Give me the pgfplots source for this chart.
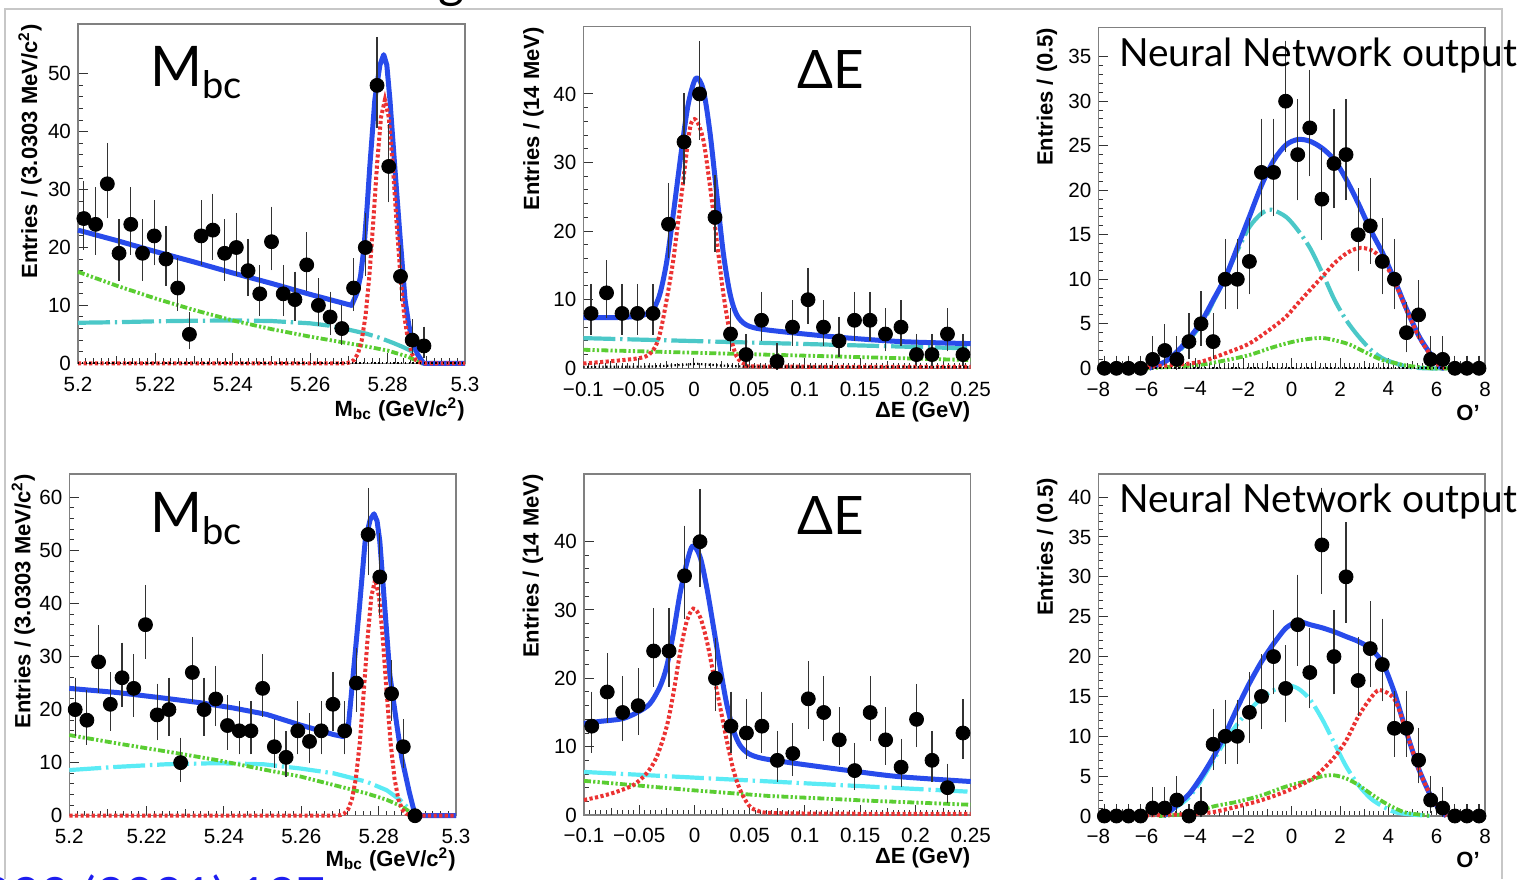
\documentclass[border=0pt]{standalone}
\usepackage{fontspec}
\setmainfont{Liberation Sans}
\newfontfamily\titlefont{Lato}
\usepackage{pgfplots}
\pgfplotsset{compat=1.18}
\usepackage{pgfplotstable}

\definecolor{fitblue}{RGB}{40,75,235}
\definecolor{fitred}{RGB}{235,50,50}
\definecolor{fitcyanA}{RGB}{75,200,200}
\definecolor{fitcyanB}{RGB}{90,235,245}
\definecolor{fitgreen}{RGB}{90,205,50}
\definecolor{slideblue}{RGB}{30,30,240}

\newcommand\ticksize{\fontsize{10.3}{12}\selectfont}
\newcommand\labelfont{\fontsize{11}{13}\selectfont\bfseries}

\pgfplotsset{
  rootaxis/.style={scale only axis, anchor=south west, clip=false, ymin=0,
    axis line style={black!50, line width=0.6pt},
    tick align=inside, tick pos=left,
    major tick length=5pt, minor tick length=2.5pt,
    tick style={black!80, line width=0.5pt},
    ticklabel style={font=\ticksize},
    xticklabel style={yshift=-3.2pt},
    label style={font=\labelfont},
    xlabel style={anchor=east, inner sep=0pt},
    ylabel style={anchor=east, inner sep=0pt},
    extra x tick style={major tick length=3.5pt},
  },
  blueC/.style={color=fitblue, line width=2.5pt, line join=round},
  redC/.style={color=fitred, line width=2pt, dash pattern=on 1.6pt off 1.2pt},
  cyanC/.style={line width=2.1pt, dash pattern=on 16pt off 2.4pt on 1.2pt off 2.4pt},
  greenC/.style={color=fitgreen, line width=1.9pt, dash pattern=on 3.5pt off 1.1pt on 1.1pt off 1.1pt on 1.1pt off 1.1pt},
  blackC/.style={black, line width=1.1pt, dash pattern=on 0.7pt off 1.2pt},
  dataP/.style={only marks, mark=*, mark size=3.5pt, black,
    error bars/.cd, y dir=both, y explicit,
    error bar style={line width=0.6pt, black!80},
    error mark options={line width=0.6pt, mark size=1.2pt, black!80}},
  /pgfplots/table/errT/.style={x=x, y=y,
    y error plus expr={sqrt(\thisrow{y}+0.75)+1-0.72*(\thisrow{y}<0.5)},
    y error minus expr={sqrt(max(\thisrow{y}-0.25,0))}},
}

\pgfplotstableread{
x y
5.20152 25
5.20455 24
5.20758 31
5.21061 19
5.21364 24
5.21667 19
5.21970 22
5.22273 18
5.22576 13
5.22879 5
5.23182 22
5.23485 23
5.23788 19
5.24091 20
5.24394 16
5.24697 12
5.25000 21
5.25303 12
5.25606 11
5.25909 17
5.26212 10
5.26515 8
5.26818 6
5.27121 13
5.27424 20
5.27727 48
5.28030 34
5.28333 15
5.28636 4
5.28939 3
}\dataA

\pgfplotstableread{
x y
-0.093 8
-0.079 11
-0.065 8
-0.051 8
-0.037 8
-0.023 21
-0.009 33
0.005 40
0.019 22
0.033 5
0.047 2
0.061 7
0.075 1
0.089 6
0.103 10
0.117 6
0.131 4
0.145 7
0.159 7
0.173 5
0.187 6
0.201 2
0.215 2
0.229 5
0.243 2
}\dataB

\pgfplotstableread{
x y
-7.75 0
-7.25 0
-6.75 0
-6.25 0
-5.75 1
-5.25 2
-4.75 1
-4.25 3
-3.75 5
-3.25 3
-2.75 10
-2.25 10
-1.75 12
-1.25 22
-0.75 22
-0.25 30
0.25 24
0.75 27
1.25 19
1.75 23
2.25 24
2.75 15
3.25 16
3.75 12
4.25 10
4.75 4
5.25 6
5.75 1
6.25 1
6.75 0
7.25 0
7.75 0
}\dataC

\pgfplotstableread{
x y
5.20152 20
5.20455 18
5.20758 29
5.21061 21
5.21364 26
5.21667 24
5.21970 36
5.22273 19
5.22576 20
5.22879 10
5.23182 27
5.23485 20
5.23788 22
5.24091 17
5.24394 16
5.24697 16
5.25000 24
5.25303 13
5.25606 11
5.25909 16
5.26212 14
5.26515 16
5.26818 21
5.27121 16
5.27424 25
5.27727 53
5.28030 45
5.28333 23
5.28636 13
}\dataD

\pgfplotstableread{
x y
-0.093 13
-0.079 18
-0.065 15
-0.051 16
-0.037 24
-0.023 24
-0.009 35
0.005 40
0.019 20
0.033 13
0.047 12
0.061 13
0.075 8
0.089 9
0.103 17
0.117 15
0.131 11
0.145 6.5
0.159 15
0.173 11
0.187 7
0.201 14
0.215 8
0.229 4
0.243 12
}\dataE

\pgfplotstableread{
x y
-7.75 0
-7.25 0
-6.75 0
-6.25 0
-5.75 1
-5.25 1
-4.75 2
-4.25 0
-3.75 1
-3.25 9
-2.75 10
-2.25 10
-1.75 13
-1.25 15
-0.75 20
-0.25 16
0.25 24
0.75 18
1.25 34
1.75 20
2.25 30
2.75 17
3.25 21
3.75 19
4.25 11
4.75 11
5.25 7
5.75 2
6.25 1
6.75 0
7.25 0
7.75 0
}\dataF

\begin{document}
\begin{tikzpicture}
\useasboundingbox (0,0) rectangle (759pt,439.5pt);

% ---------------- Panel 1: Mbc (top) ----------------
\begin{axis}[rootaxis, at={(39pt,257.85pt)}, width=193.5pt, height=169.65pt,
  xmin=5.2, xmax=5.3, ymax=58.6,
  xtick={5.2,5.22,5.24,5.26,5.28,5.3}, xticklabels={5.2,5.22,5.24,5.26,5.28,5.3},
  minor x tick num=9,
  extra x ticks={5.21,5.23,5.25,5.27,5.29}, extra x tick labels={},
  ytick={0,10,20,30,40,50}, yticklabels={0,10,20,30,40,50}, minor y tick num=4,
  xlabel={M\textsubscript{bc} (GeV/c\textsuperscript{2})},
  ylabel={Entries / (3.0303 MeV/c\textsuperscript{2})},
  xlabel style={at={(axis description cs:1,-0.1356)}},
  ylabel style={at={(axis description cs:-0.124,1)}},
]
\addplot[color=fitcyanA, cyanC] coordinates {(5.2,7.0) (5.21,7.1) (5.22,7.25) (5.23,7.35) (5.24,7.4) (5.25,7.3) (5.26,6.9) (5.265,6.5) (5.27,5.8) (5.2746,5.1) (5.278,4.4) (5.2815,3.5) (5.284,2.8) (5.2865,2.0) (5.2885,1.0) (5.289,0) (5.3,0)};
\addplot[greenC] coordinates {(5.2,15.8) (5.21,13.4) (5.22,11.2) (5.23,9.2) (5.24,7.4) (5.25,5.9) (5.26,4.6) (5.2746,2.9) (5.28,2.2) (5.285,1.2) (5.289,0) (5.3,0)};
\addplot[blueC] coordinates {(5.2,23.0) (5.21,21.2) (5.22,19.3) (5.23,17.5) (5.24,15.6) (5.25,13.8) (5.26,11.9) (5.2707,10.0) (5.2720,12.0) (5.2730,15.0) (5.2739,20.0) (5.2747,27.0) (5.2754,34.0) (5.2767,45.5) (5.2780,51.5) (5.2790,53.3) (5.2798,51.5) (5.2806,45.5) (5.2819,33.5) (5.2832,22.0) (5.2845,11.0) (5.2855,6.5) (5.2865,3.8) (5.2877,1.6) (5.2893,0) (5.3,0)};
\addplot[redC] coordinates {(5.2,0) (5.2693,0) (5.2703,0.18) (5.2713,0.56) (5.2723,1.6) (5.2733,3.9) (5.2743,8.2) (5.2753,15.2) (5.2763,24.5) (5.2773,34.6) (5.2783,42.5) (5.2793,45.5) (5.2803,42.5) (5.2813,34.6) (5.2823,24.5) (5.2833,15.2) (5.2843,8.2) (5.2853,3.9) (5.2863,1.6) (5.2873,0.56) (5.2883,0.18) (5.2893,0) (5.3,0)};
\addplot[blackC] coordinates {(5.2,0) (5.3,0)};
\addplot[dataP] table[errT] {\dataA};
\end{axis}

% ---------------- Panel 2: dE (top) ----------------
\begin{axis}[rootaxis, at={(291.65pt,255.35pt)}, width=193.7pt, height=170.8pt,
  xmin=-0.1, xmax=0.25, ymax=49.8,
  xtick={-0.1,-0.05,0,0.05,0.1,0.15,0.2,0.25}, xticklabels={−0.1,−0.05,0,0.05,0.1,0.15,0.2,0.25},
  minor x tick num=9,
  extra x ticks={-0.075,-0.025,0.025,0.075,0.125,0.175,0.225}, extra x tick labels={},
  ytick={0,10,20,30,40}, yticklabels={0,10,20,30,40}, minor y tick num=4,
  xlabel={ΔE (GeV)},
  ylabel={Entries / (14 MeV)},
  xlabel style={at={(axis description cs:1,-0.1288)}},
  ylabel style={at={(axis description cs:-0.129,1)}},
]
\addplot[color=fitcyanA, cyanC] coordinates {(-0.1,4.4) (0.25,2.9)};
\addplot[greenC] coordinates {(-0.1,2.7) (0.25,1.2)};
\addplot[blueC, smooth, tension=0.5] coordinates {(-0.1,7.4) (-0.07,7.4) (-0.05,7.6) (-0.042,8.0) (-0.0364,8.7) (-0.0307,10.9) (-0.0247,15.5) (-0.0187,22.5) (-0.0111,32.0) (-0.0051,38.6) (0.0018,42.3) (0.0084,40.6) (0.0145,34.3) (0.0205,25.5) (0.0265,16.8) (0.0325,10.9) (0.0386,7.8) (0.0476,6.3) (0.0657,5.6) (0.1259,4.6) (0.1861,3.9) (0.25,3.6)};
\addplot[redC, smooth, tension=0.5] coordinates {(-0.1,0.7) (-0.0488,1.5) (-0.0367,2.7) (-0.0307,5.1) (-0.0247,10.0) (-0.0187,15.8) (-0.0111,25.5) (-0.0036,35.0) (0.0018,36.2) (0.0084,33.3) (0.0145,26.5) (0.0205,18.7) (0.0265,10.9) (0.0325,5.1) (0.0386,1.7) (0.0476,0.5) (0.0657,0.25) (0.25,0.2)};
\addplot[blackC] coordinates {(-0.1,0.2) (-0.04,0.25) (-0.015,0.45) (0.003,0.65) (0.02,0.45) (0.045,0.25) (0.25,0.15)};
\addplot[dataP] table[errT] {\dataB};
\end{axis}

% ---------------- Panel 3: NN (top) ----------------
\begin{axis}[rootaxis, at={(549.15pt,255.35pt)}, width=193.35pt, height=170.5pt,
  xmin=-8, xmax=8, ymax=38.3,
  xtick={-8,-6,-4,-2,0,2,4,6,8}, xticklabels={−8,−6,−4,−2,0,2,4,6,8},
  minor x tick num=9,
  extra x ticks={-7,-5,-3,-1,1,3,5,7}, extra x tick labels={},
  ytick={0,5,10,15,20,25,30,35}, yticklabels={0,5,10,15,20,25,30,35}, minor y tick num=4,
  xlabel={O’},
  ylabel={Entries / (0.5)},
  xlabel style={at={(axis description cs:0.987,-0.132)}},
  ylabel style={at={(axis description cs:-0.133,1)}},
]
\addplot[color=fitcyanA, cyanC, smooth, tension=0.5] coordinates {(-6.2,0) (-5.74,0.2) (-5.23,0.75) (-4.73,1.7) (-3.74,4.9) (-3.24,7.5) (-2.73,10.3) (-2.23,13.3) (-1.74,15.9) (-1.24,17.4) (-0.83,17.8) (-0.23,17.0) (0.26,15.5) (0.76,13.5) (1.27,10.7) (1.77,7.7) (2.26,5.4) (2.76,3.6) (3.27,2.1) (3.77,1.1) (4.26,0.6) (4.76,0.2) (5.5,0) (6.5,0)};
\addplot[greenC, smooth, tension=0.5] coordinates {(-6.0,0) (-4.73,0.2) (-3.74,0.4) (-2.73,0.9) (-1.74,1.5) (-0.73,2.4) (0.26,3.1) (1.27,3.4) (2.26,2.8) (2.76,2.2) (3.27,1.5) (3.77,0.9) (4.26,0.6) (4.76,0.3) (5.77,0) (6.5,0)};
\addplot[blueC, smooth, tension=0.5] coordinates {(-5.9,0) (-5.74,0.2) (-5.23,0.75) (-4.73,1.9) (-4.23,3.4) (-3.74,5.2) (-3.24,7.7) (-2.73,10.3) (-2.23,13.7) (-1.74,17.1) (-1.24,20.6) (-0.73,23.4) (-0.23,25.1) (0.26,25.7) (0.76,25.5) (1.27,24.7) (1.77,23.4) (2.26,21.2) (2.76,18.5) (3.27,15.5) (3.77,12.9) (4.26,9.9) (4.76,6.6) (5.27,3.6) (5.77,1.5) (6.14,0.2) (6.3,0)};
\addplot[redC, smooth, tension=0.5] coordinates {(-6.2,0) (-5.74,0.2) (-4.73,0.4) (-3.74,0.75) (-2.73,1.7) (-1.74,2.8) (-0.73,4.7) (-0.23,5.8) (0.26,7.3) (0.76,8.8) (1.27,10.3) (1.77,11.8) (2.26,12.9) (2.76,13.5) (3.27,13.3) (3.77,12.2) (4.26,9.7) (4.76,6.5) (5.27,3.5) (5.77,1.4) (6.14,0.2) (6.4,0)};
\addplot[blackC] coordinates {(-8,0) (8,0)};
\addplot[dataP] table[errT] {\dataC};
\end{axis}

% ---------------- Panel 4: Mbc (bottom) ----------------
\begin{axis}[rootaxis, at={(34.65pt,31.65pt)}, width=193.35pt, height=170.85pt,
  xmin=5.2, xmax=5.3, ymax=64.4,
  xtick={5.2,5.22,5.24,5.26,5.28,5.3}, xticklabels={5.2,5.22,5.24,5.26,5.28,5.3},
  minor x tick num=9,
  extra x ticks={5.21,5.23,5.25,5.27,5.29}, extra x tick labels={},
  ytick={0,10,20,30,40,50,60}, yticklabels={0,10,20,30,40,50,60}, minor y tick num=4,
  xlabel={M\textsubscript{bc} (GeV/c\textsuperscript{2})},
  ylabel={Entries / (3.0303 MeV/c\textsuperscript{2})},
  xlabel style={at={(axis description cs:1,-0.127)}},
  ylabel style={at={(axis description cs:-0.119,1)}},
]
\addplot[color=fitcyanB, cyanC] coordinates {(5.2,8.6) (5.2122,9.2) (5.2252,9.7) (5.2381,9.9) (5.2502,9.7) (5.2597,8.9) (5.2683,8.0) (5.2769,6.4) (5.2821,4.8) (5.2855,3.0) (5.2881,1.1) (5.2892,0) (5.3,0)};
\addplot[greenC] coordinates {(5.2,15.2) (5.2126,13.6) (5.2252,12.1) (5.2381,10.5) (5.251,8.6) (5.2597,7.4) (5.2683,5.8) (5.2769,4.2) (5.2821,3.0) (5.2855,1.9) (5.2881,0.75) (5.2892,0) (5.3,0)};
\addplot[blueC] coordinates {(5.2,24.0) (5.2126,23.2) (5.2252,22.1) (5.2338,21.3) (5.2424,20.3) (5.251,19.1) (5.2597,17.1) (5.2683,15.3) (5.2709,14.9) (5.2722,17.1) (5.2734,26.5) (5.275,39.1) (5.2765,51.7) (5.2778,55.8) (5.2788,56.9) (5.2796,55.5) (5.2803,51.7) (5.2816,39.1) (5.2829,26.5) (5.2847,17.1) (5.286,10.8) (5.2879,4.5) (5.2892,0.75) (5.2896,0) (5.3,0)};
\addplot[redC] coordinates {(5.2,0) (5.2691,0) (5.2701,0.11) (5.2711,0.39) (5.2721,1.19) (5.2731,3.1) (5.2741,7.0) (5.2751,13.6) (5.2761,22.9) (5.2771,33.1) (5.2781,41.3) (5.2791,44.5) (5.2801,41.3) (5.2811,33.1) (5.2821,22.9) (5.2831,13.6) (5.2841,7.0) (5.2851,3.1) (5.2861,1.19) (5.2871,0.39) (5.2881,0.11) (5.2891,0) (5.3,0)};
\addplot[dataP] table[errT] {\dataD};
\addplot[only marks, mark=*, mark size=3.5pt, black] coordinates {(5.28939,0)};
\end{axis}

% ---------------- Panel 5: dE (bottom) ----------------
\begin{axis}[rootaxis, at={(292pt,32pt)}, width=193.35pt, height=170.5pt,
  xmin=-0.1, xmax=0.25, ymax=49.9,
  xtick={-0.1,-0.05,0,0.05,0.1,0.15,0.2,0.25}, xticklabels={−0.1,−0.05,0,0.05,0.1,0.15,0.2,0.25},
  minor x tick num=9,
  extra x ticks={-0.075,-0.025,0.025,0.075,0.125,0.175,0.225}, extra x tick labels={},
  ytick={0,10,20,30,40}, yticklabels={0,10,20,30,40}, minor y tick num=4,
  xlabel={ΔE (GeV)},
  ylabel={Entries / (14 MeV)},
  xlabel style={at={(axis description cs:1,-0.126)}},
  ylabel style={at={(axis description cs:-0.132,1)}},
]
\addplot[color=fitcyanB, cyanC] coordinates {(-0.1,6.3) (0.25,3.4)};
\addplot[greenC] coordinates {(-0.1,5.0) (0,3.6) (0.066,2.8) (0.157,2.1) (0.25,1.5)};
\addplot[blueC, smooth, tension=0.5] coordinates {(-0.1,13.4) (-0.0855,13.7) (-0.065,14.1) (-0.0508,15.1) (-0.0403,16.3) (-0.0312,18.8) (-0.0252,21.7) (-0.0191,26.6) (-0.0131,32.4) (-0.0071,36.8) (-0.0016,39.4) (0.005,37.8) (0.011,33.4) (0.0171,27.6) (0.0231,21.7) (0.0291,16.3) (0.0352,12.4) (0.0412,10.2) (0.0488,9.0) (0.0611,8.3) (0.0892,7.6) (0.1447,6.4) (0.1861,5.6) (0.25,4.9)};
\addplot[redC, smooth, tension=0.5] coordinates {(-0.1,2.2) (-0.0855,2.7) (-0.0704,3.4) (-0.0553,4.4) (-0.0433,6.1) (-0.0342,8.5) (-0.0252,12.9) (-0.0191,17.8) (-0.0131,23.7) (-0.0071,28.3) (-0.001,30.2) (0.005,29.0) (0.011,25.6) (0.0171,20.7) (0.0231,15.9) (0.0291,11.0) (0.0352,6.6) (0.0412,3.7) (0.0488,1.5) (0.0563,0.7) (0.0804,0.25) (0.25,0.15)};
\addplot[dataP] table[errT] {\dataE};
\end{axis}

% ---------------- Panel 6: NN (bottom) ----------------
\begin{axis}[rootaxis, at={(549.15pt,31.5pt)}, width=193.35pt, height=171pt,
  xmin=-8, xmax=8, ymax=42.9,
  xtick={-8,-6,-4,-2,0,2,4,6,8}, xticklabels={−8,−6,−4,−2,0,2,4,6,8},
  minor x tick num=9,
  extra x ticks={-7,-5,-3,-1,1,3,5,7}, extra x tick labels={},
  ytick={0,5,10,15,20,25,30,35,40}, yticklabels={0,5,10,15,20,25,30,35,40}, minor y tick num=4,
  xlabel={O’},
  ylabel={Entries / (0.5)},
  xlabel style={at={(axis description cs:0.987,-0.129)}},
  ylabel style={at={(axis description cs:-0.132,0.99)}},
]
\addplot[color=fitcyanB, cyanC, smooth, tension=0.5] coordinates {(-5.3,0) (-4.73,1.2) (-4.23,2.4) (-3.74,4.5) (-3.24,7.0) (-2.73,9.5) (-2.23,11.6) (-1.74,13.3) (-1.24,14.8) (-0.73,15.8) (-0.23,16.4) (0.26,16.0) (0.76,14.6) (1.27,12.1) (1.77,9.1) (2.26,6.2) (2.76,3.9) (3.27,2.2) (3.77,1.2) (4.26,0.5) (4.76,0.25) (5.77,0)};
\addplot[greenC, smooth, tension=0.5] coordinates {(-5.5,0) (-4.23,0.3) (-3.24,1.2) (-2.23,1.8) (-1.24,2.6) (-0.23,3.7) (0.76,4.5) (1.27,5.0) (1.77,5.1) (2.26,4.7) (2.76,3.9) (3.27,2.8) (3.77,1.8) (4.26,1.0) (4.76,0.4) (5.77,0)};
\addplot[blueC, smooth, tension=0.4] coordinates {(-5.3,0) (-5.0,0.7) (-4.73,1.4) (-4.23,2.8) (-3.74,4.9) (-3.24,7.4) (-2.73,10.4) (-2.23,13.7) (-1.74,16.7) (-1.24,19.4) (-0.73,21.7) (-0.23,23.6) (0.26,24.4) (0.76,24.0) (1.27,23.6) (1.77,23.1) (2.26,22.5) (2.76,21.9) (3.27,21.0) (3.77,19.2) (4.26,15.4) (4.76,10.4) (5.27,5.8) (5.77,2.4) (6.14,0.75) (6.4,0)};
\addplot[redC, smooth, tension=0.5] coordinates {(-6.5,0) (-5.74,0.1) (-4.23,0.25) (-3.24,0.5) (-2.23,1.2) (-1.24,2.0) (-0.23,3.1) (0.76,4.5) (1.27,5.8) (1.77,7.4) (2.26,9.5) (2.76,12.5) (3.27,14.8) (3.65,15.8) (4.26,14.6) (4.76,10.4) (5.27,5.8) (5.77,2.4) (6.14,0.75) (6.4,0)};
\addplot[dataP] table[errT] {\dataF};
\end{axis}

% ---------------- annotations ----------------
\node[anchor=base west, inner sep=0pt] at (75pt,396pt) {\titlefont\fontsize{28}{30}\selectfont M\raisebox{-6pt}{\fontsize{19}{20}\selectfont bc}};
\node[anchor=base west, inner sep=0pt] at (75pt,173.5pt) {\titlefont\fontsize{28}{30}\selectfont M\raisebox{-6pt}{\fontsize{19}{20}\selectfont bc}};
\node[anchor=base west, inner sep=0pt] at (398.5pt,395pt) {\titlefont\fontsize{26.5}{30}\selectfont ΔE};
\node[anchor=base west, inner sep=0pt] at (398.5pt,172.5pt) {\titlefont\fontsize{26.5}{30}\selectfont ΔE};
\node[anchor=base west, inner sep=0pt] at (559.5pt,406pt) {\titlefont\fontsize{19.4}{22}\selectfont Neural Network output};
\node[anchor=base west, inner sep=0pt] at (559.5pt,183.5pt) {\titlefont\fontsize{19.4}{22}\selectfont Neural Network output};

% ---------------- slide remnants ----------------
\draw[black!22, line width=0.7pt] (2.5pt,0pt) -- (2.5pt,435pt) -- (751pt,435pt) -- (751pt,0pt);
\node[anchor=base west, inner sep=0pt] at (219pt,440.5pt) {\titlefont\fontsize{25}{25}\selectfont g};
\node[anchor=base west, inner sep=0pt, text=slideblue] at (-8.75pt,-17.2pt) {\titlefont\fontsize{25}{25}\selectfont 033 (2021) 137};
\end{tikzpicture}
\end{document}
